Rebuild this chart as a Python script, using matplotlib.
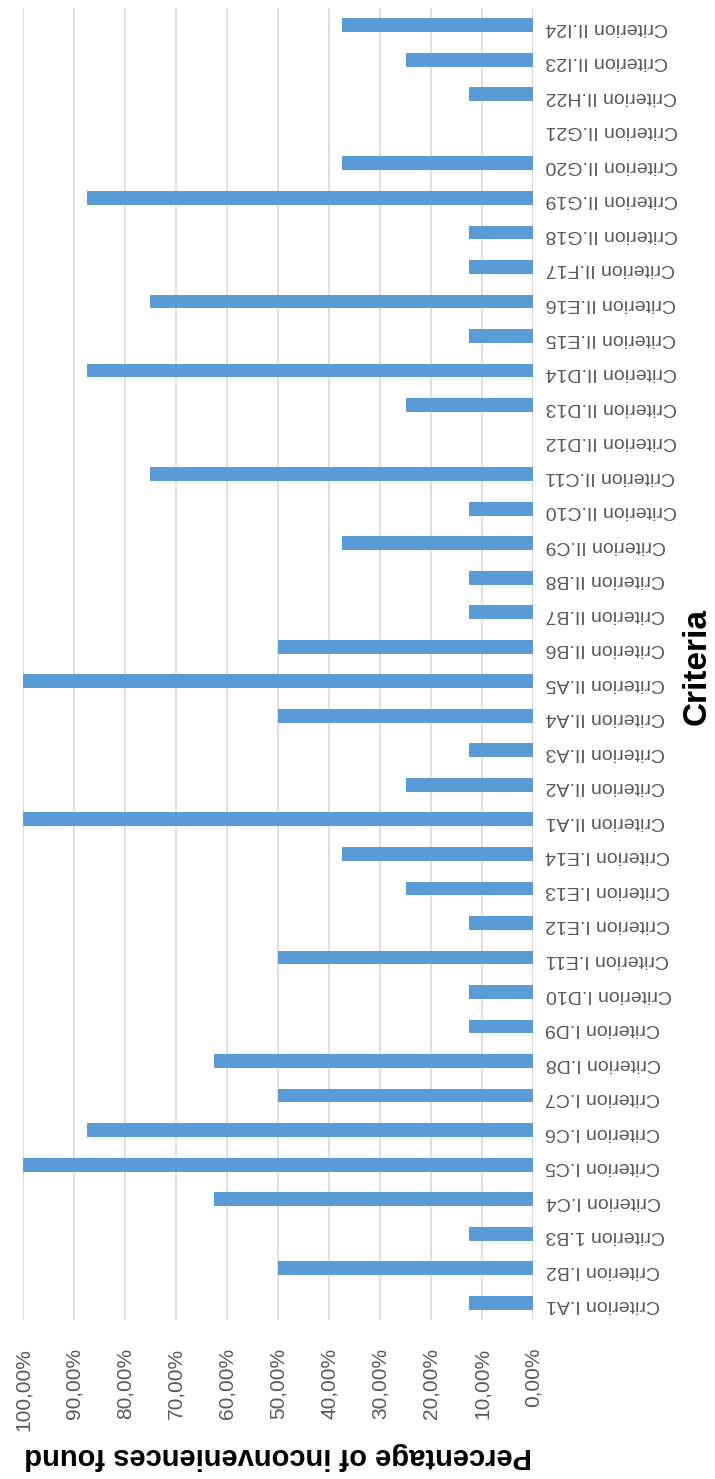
import numpy as np
import matplotlib
matplotlib.use("Agg")
import matplotlib.pyplot as plt

# Criteria listed from the bottom bar to the top bar
criteria = [
    "Criterion I.A1", "Criterion I.B2", "Criterion 1.B3", "Criterion I.C4",
    "Criterion I.C5", "Criterion I.C6", "Criterion I.C7", "Criterion I.D8",
    "Criterion I.D9", "Criterion I.D10", "Criterion I.E11", "Criterion I.E12",
    "Criterion I.E13", "Criterion I.E14", "Criterion II.A1", "Criterion II.A2",
    "Criterion II.A3", "Criterion II.A4", "Criterion II.A5", "Criterion II.B6",
    "Criterion II.B7", "Criterion II.B8", "Criterion II.C9", "Criterion II.C10",
    "Criterion II.C11", "Criterion II.D12", "Criterion II.D13", "Criterion II.D14",
    "Criterion II.E15", "Criterion II.E16", "Criterion II.F17", "Criterion II.G18",
    "Criterion II.G19", "Criterion II.G20", "Criterion II.G21", "Criterion II.H22",
    "Criterion II.I23", "Criterion II.I24",
]

# percentage of inconveniences found for each criterion
found_pct = [
    12.5, 50, 12.5, 62.5,
    100, 87.5, 50, 62.5,
    12.5, 12.5, 50, 12.5,
    25, 37.5, 100, 25,
    12.5, 50, 100, 50,
    12.5, 12.5, 37.5, 12.5,
    75, 0, 25, 87.5,
    12.5, 75, 12.5, 12.5,
    87.5, 37.5, 0, 12.5,
    25, 37.5,
]

pct_ticks = [0, 10, 20, 30, 40, 50, 60, 70, 80, 90, 100]
pct_labels = ["0,00%", "10,00%", "20,00%", "30,00%", "40,00%", "50,00%",
              "60,00%", "70,00%", "80,00%", "90,00%", "100,00%"]

plt.rcParams["font.family"] = ["Liberation Sans", "DejaVu Sans"]

W, H = 715, 1479
fig = plt.figure(figsize=(W / 100, H / 100), dpi=100)
ax = fig.add_axes([23 / W, 1 - 1320 / H, (533 - 23) / W, (1320 - 8) / H])

pos = np.arange(len(criteria))
ax.barh(pos, found_pct, height=0.4, color="#5B9BD5", zorder=3)

ax.set_xlim(100, 0)
ax.set_ylim(-0.5, len(criteria) - 0.5)

ax.set_xticks(pct_ticks)
ax.set_xticklabels(pct_labels, rotation=90, color="#595959", fontsize=15)
ax.set_yticks(pos)
ax.set_yticklabels(criteria, rotation=180, color="#595959", fontsize=14)
ax.yaxis.tick_right()
ax.tick_params(axis="x", length=0, pad=20)
ax.tick_params(axis="y", length=0, pad=9)

ax.grid(axis="x", color="#DDDDDD", linewidth=1.3, zorder=0)
for s in ax.spines.values():
    s.set_visible(False)

fig.text(278 / W, 1 - 1456 / H, "Percentage of inconveniences found",
         rotation=180, ha="center", va="center", fontsize=21,
         fontweight="bold", color="black")
fig.text(697 / W, 1 - 666 / H, "Criteria", rotation=90, ha="center",
         va="center", fontsize=24, fontweight="bold", color="black")

fig.savefig("out.png", dpi=100, facecolor="white")
